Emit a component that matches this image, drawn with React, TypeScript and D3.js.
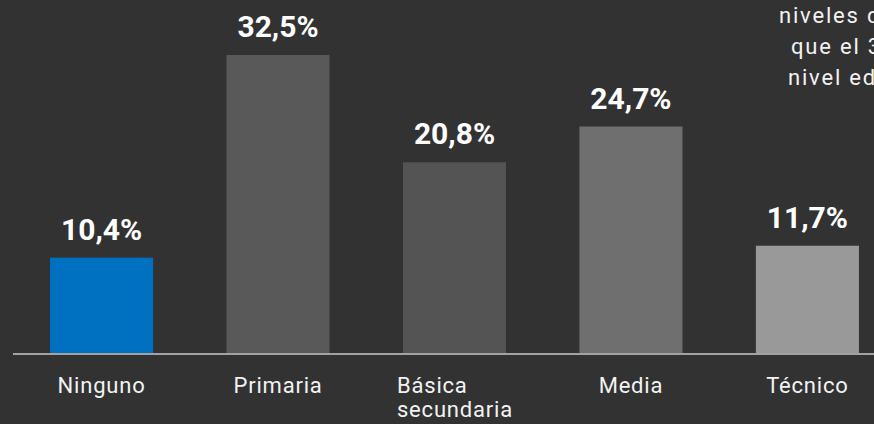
import { useMemo } from 'react'
import * as d3 from 'd3'

const CATEGORIES = ['Ninguno', 'Primaria', 'Básica secundaria', 'Media', 'Técnico']
const VALUES = [10.4, 32.5, 20.8, 24.7, 11.7]
const COLORS = ['#0070c0', '#595959', '#545454', '#6f6f6f', '#999999']
const NOTE_LINES = ['niveles de', 'que el 32,5%', 'nivel educativo']

const W = 874
const H = 424
const BASE = 353
const FONT = 'Roboto, "DejaVu Sans", sans-serif'
const fmt = (v: number) => d3.format('.1f')(v).replace('.', ',') + '%'

export default function App() {
  const x = useMemo(
    () => d3.scaleBand<string>().domain(CATEGORIES).range([13, 896]).paddingInner(0.416).paddingOuter(0.21),
    []
  )
  const y = useMemo(() => d3.scaleLinear().domain([0, 32.5]).range([BASE, 55]), [])

  return (
    <svg
      width={W}
      height={H}
      viewBox={`0 0 ${W} ${H}`}
      style={{ position: 'absolute', left: 0, top: 0, display: 'block', background: '#323232' }}
    >
      <rect x={0} y={0} width={W} height={H} fill="#323232" />

      {/* note text, cut off by the right edge as in the source */}
      {NOTE_LINES.map((t, i) => (
        <text
          key={t}
          x={[779, 791, 788][i]}
          y={23 + i * 31}
          fill="#f2f2f2"
          fontFamily={FONT}
          fontSize={22}
          letterSpacing={1.8}
        >
          {t}
        </text>
      ))}

      {CATEGORIES.map((c, i) => {
        const bx = x(c) as number
        const cx = bx + x.bandwidth() / 2
        return (
          <g key={c}>
            <rect x={bx} y={y(VALUES[i])} width={x.bandwidth()} height={BASE - y(VALUES[i])} fill={COLORS[i]} />
            <text
              x={cx}
              y={y(VALUES[i]) - 18}
              textAnchor="middle"
              fill="#ffffff"
              fontFamily={FONT}
              fontWeight="bold"
              fontSize={30}
            >
              {fmt(VALUES[i])}
            </text>
            {c.includes(' ') ? (
              <text x={bx - 6} y={393} fill="#f2f2f2" fontFamily={FONT} fontSize={22} letterSpacing={0.8}>
                <tspan x={bx - 6} dy={0}>{c.split(' ')[0]}</tspan>
                <tspan x={bx - 6} dy={24}>{c.split(' ')[1]}</tspan>
              </text>
            ) : (
              <text
                x={cx}
                y={393}
                textAnchor="middle"
                fill="#f2f2f2"
                fontFamily={FONT}
                fontSize={22}
                letterSpacing={0.8}
              >
                {c}
              </text>
            )}
          </g>
        )
      })}

      <line x1={13} x2={W} y1={BASE + 1} y2={BASE + 1} stroke="#c8c8c8" strokeWidth={1.5} />
    </svg>
  )
}
